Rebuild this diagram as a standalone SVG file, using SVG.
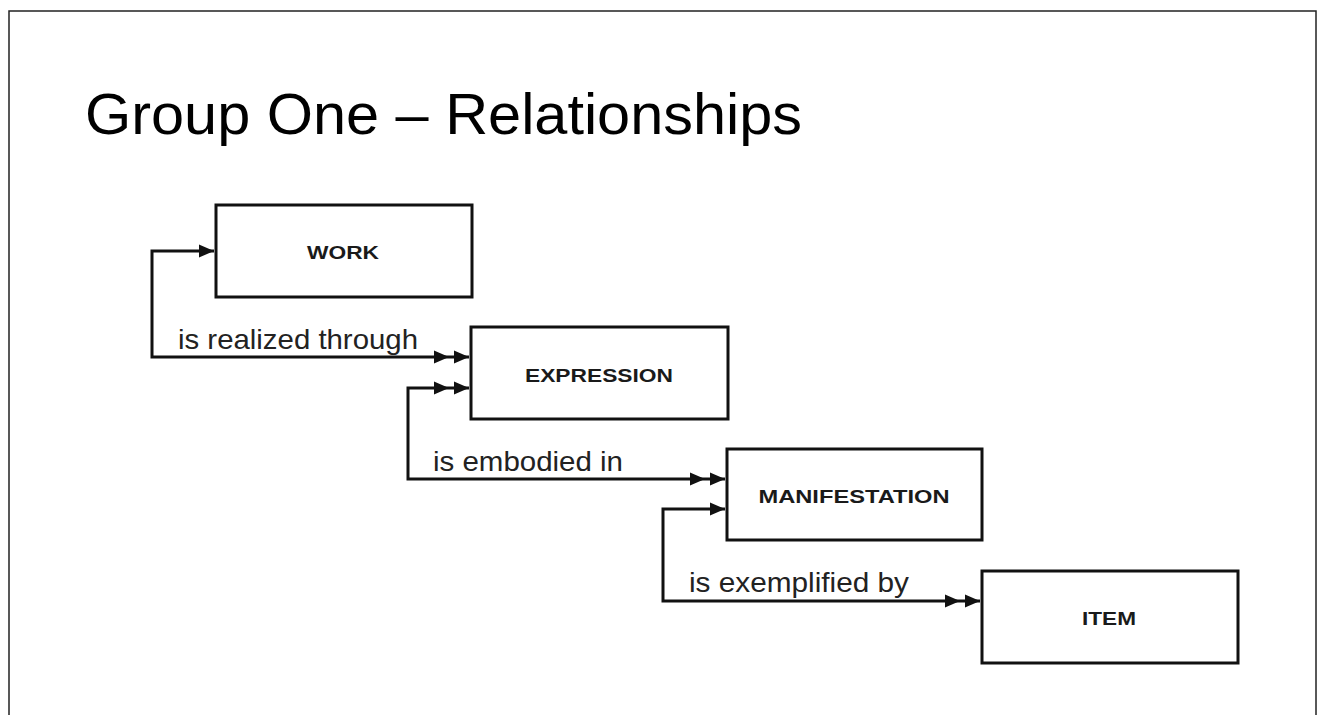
<svg xmlns="http://www.w3.org/2000/svg" width="1318" height="715" viewBox="0 0 1318 715">
<style>
.frame{fill:none;stroke:#222;stroke-width:1.5}
.box{fill:#fff;stroke:#111;stroke-width:3}
.lbl{font-family:"Liberation Sans",Arial,sans-serif;font-weight:bold;font-size:18px;fill:#1a1a1a;text-anchor:middle}
.rel{font-family:"Liberation Sans",Arial,sans-serif;font-size:28px;fill:#222}
.title{font-family:"Liberation Sans",Arial,sans-serif;font-size:57px;fill:#000}
.conn{fill:none;stroke:#111;stroke-width:3}
</style>
<defs>
<marker id="one" viewBox="-18 -8 20 16" refX="0" refY="0" markerWidth="20" markerHeight="16" markerUnits="userSpaceOnUse" orient="auto-start-reverse">
<path d="M-15,-6.5 L0,0 L-15,6.5 Z" fill="#111"/>
</marker>
<marker id="two" viewBox="-38 -8 40 16" refX="0" refY="0" markerWidth="40" markerHeight="16" markerUnits="userSpaceOnUse" orient="auto-start-reverse">
<path d="M-15,-6.5 L0,0 L-15,6.5 Z M-35,-6.5 L-20,0 L-35,6.5 Z" fill="#111"/>
</marker>
</defs>
<rect class="frame" x="9" y="11" width="1307" height="720"/>
<text class="title" x="85" y="134" textLength="717" lengthAdjust="spacingAndGlyphs">Group One – Relationships</text>
<g id="connectors">
<path class="conn" d="M214,251 H152 V357 H469" marker-start="url(#one)" marker-end="url(#two)"/>
<path class="conn" d="M469,388 H408 V479 H725" marker-start="url(#two)" marker-end="url(#two)"/>
<path class="conn" d="M725,509 H663 V601 H980" marker-start="url(#one)" marker-end="url(#two)"/>
<text class="rel" x="178" y="349" textLength="240" lengthAdjust="spacingAndGlyphs">is realized through</text>
<text class="rel" x="433" y="471" textLength="190" lengthAdjust="spacingAndGlyphs">is embodied in</text>
<text class="rel" x="689" y="592" textLength="220" lengthAdjust="spacingAndGlyphs">is exemplified by</text>
</g>
<g id="work">
<rect class="box" x="216" y="205" width="256" height="92"/>
<text class="lbl" x="343" y="259" textLength="72" lengthAdjust="spacingAndGlyphs">WORK</text>
</g>
<g id="expression">
<rect class="box" x="471" y="327" width="257" height="92"/>
<text class="lbl" x="599" y="382" textLength="148" lengthAdjust="spacingAndGlyphs">EXPRESSION</text>
</g>
<g id="manifestation">
<rect class="box" x="727" y="449" width="255" height="91"/>
<text class="lbl" x="854" y="503" textLength="191" lengthAdjust="spacingAndGlyphs">MANIFESTATION</text>
</g>
<g id="item">
<rect class="box" x="982" y="571" width="256" height="92"/>
<text class="lbl" x="1109" y="625" textLength="54" lengthAdjust="spacingAndGlyphs">ITEM</text>
</g>
</svg>
